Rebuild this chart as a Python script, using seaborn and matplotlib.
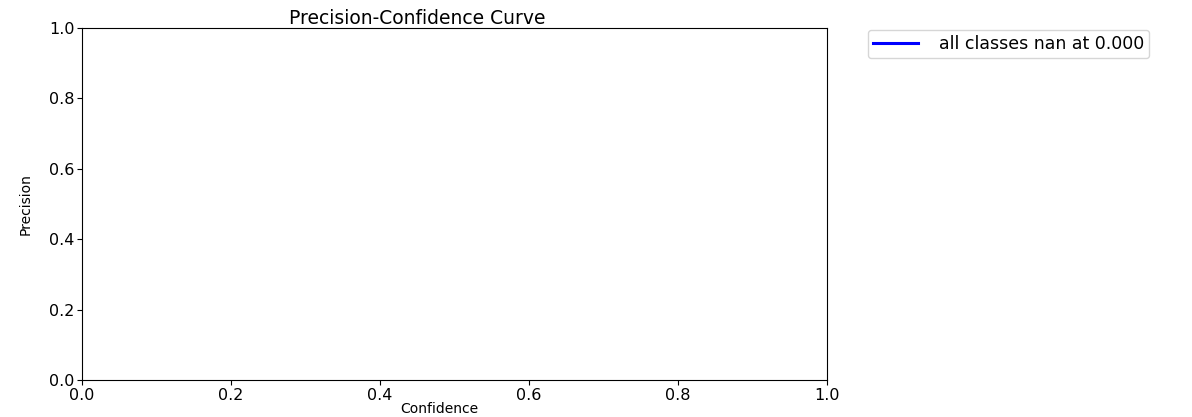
import numpy as np
import pandas as pd
import seaborn as sns
import matplotlib
matplotlib.use("Agg")
import matplotlib.pyplot as plt

# Confidence grid and mean precision over all classes (no detections -> NaN)
confidence = np.linspace(0, 1, 1000)
precision = np.full_like(confidence, np.nan)
curve_label = "all classes nan at 0.000"
x_ticks = [0.0, 0.2, 0.4, 0.6, 0.8, 1.0]
y_ticks = [0.0, 0.2, 0.4, 0.6, 0.8, 1.0]

plt.rcParams["font.family"] = ["DejaVu Sans"]

fig = plt.figure(figsize=(11.92, 4.17), dpi=100)
ax = fig.add_axes([0.0688, 0.0887, 0.625, 0.844])

df = pd.DataFrame({"Confidence": confidence, "Precision": precision})
sns.lineplot(data=df, x="Confidence", y="Precision", ax=ax, color="blue",
             linewidth=2.2, label=curve_label)
if not ax.lines:
    ax.plot([], [], color="blue", linewidth=2.2, label=curve_label)

ax.set_xlim(0, 1)
ax.set_ylim(0, 1)
ax.set_xticks(x_ticks)
ax.set_yticks(y_ticks)
ax.tick_params(labelsize=11.5, pad=2)
ax.set_xlabel("Confidence", fontsize=10, labelpad=0)
ax.xaxis.set_label_coords(0.479, -0.062)
ax.set_ylabel("Precision", fontsize=10, labelpad=12)
ax.set_title("Precision-Confidence Curve", fontsize=13.5, pad=2, x=0.45)
ax.legend(bbox_to_anchor=(1.05, 1.005), loc="upper left", fontsize=12.5,
          handlelength=2.6, borderaxespad=0.2, handletextpad=1.2,
          borderpad=0.3)

fig.savefig("out.png", dpi=100)
